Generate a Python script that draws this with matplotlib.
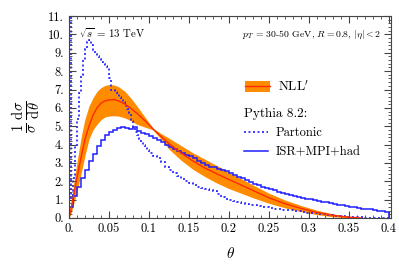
import numpy as np
from matplotlib import pyplot as plt
from matplotlib.lines import Line2D
from matplotlib.patches import Patch
from matplotlib.ticker import MultipleLocator

plt.rcParams['font.family'] = 'serif'
plt.rcParams['font.serif'] = ['cmr10', 'DejaVu Serif']
plt.rcParams['mathtext.fontset'] = 'cm'
plt.rcParams['axes.unicode_minus'] = False

# NLL' prediction: central value and band edges
nll_theta = [0, 0.003, 0.006, 0.009, 0.0125, 0.016, 0.02, 0.025, 0.03, 0.035, 0.04,
             0.045, 0.05, 0.056, 0.062, 0.07, 0.077, 0.085, 0.095, 0.105, 0.115,
             0.125, 0.14, 0.155, 0.17, 0.185, 0.2, 0.215, 0.23, 0.25, 0.27, 0.29,
             0.31, 0.33, 0.35, 0.365]
nll_mid = [0, 0.6, 1.3, 2.0, 2.75, 3.5, 4.3, 5.0, 5.6, 6.0, 6.25, 6.38, 6.43, 6.45,
           6.38, 6.2, 5.98, 5.7, 5.3, 4.85, 4.45, 4.05, 3.55, 3.1, 2.72, 2.4, 2.1,
           1.8, 1.5, 1.1, 0.78, 0.52, 0.3, 0.14, 0.04, 0.0]
nll_hi = [0, 0.9, 1.9, 2.8, 3.7, 4.6, 5.4, 6.1, 6.55, 6.9, 7.1, 7.22, 7.27, 7.25,
          7.15, 6.9, 6.55, 6.1, 5.5, 4.9, 4.6, 4.35, 3.95, 3.55, 3.2, 2.85, 2.5,
          2.15, 1.8, 1.35, 0.98, 0.68, 0.42, 0.22, 0.08, 0.02]
nll_lo = [0, 0.3, 0.8, 1.3, 1.9, 2.6, 3.4, 4.3, 4.8, 5.1, 5.35, 5.5, 5.55, 5.57,
          5.55, 5.45, 5.3, 5.1, 4.95, 4.8, 4.3, 3.75, 3.15, 2.65, 2.25, 1.9, 1.6,
          1.35, 1.1, 0.8, 0.55, 0.35, 0.18, 0.06, 0.0, 0.0]

# Pythia partonic histogram (fine bins below 0.1, coarser above)
partonic_edges = np.r_[np.arange(0, 0.1, 0.0025), np.arange(0.1, 0.4001, 0.005)]
partonic = [30.0, 1.0, 2.2, 3.9, 5.4, 6.8, 7.8, 8.6, 9.2, 9.6,
            9.7, 9.4, 9.15, 8.95, 8.8, 8.65, 8.5, 8.4, 8.3, 8.2,
            7.6, 7.0, 6.95, 6.85, 6.75, 6.6, 6.5, 6.3, 6.1, 5.95,
            5.7, 5.3, 4.95, 4.7, 4.5, 4.3, 4.15, 4.0, 3.85, 3.7,
            3.55, 3.4, 3.25, 3.05, 2.8, 2.6, 2.45, 2.3, 2.1, 2.0,
            1.9, 1.8, 1.7, 1.63, 1.58, 1.52, 1.45, 1.3, 1.15, 1.02,
            0.95, 0.9, 0.86, 0.8, 0.77, 0.72, 0.68, 0.64, 0.6, 0.57,
            0.54, 0.5, 0.47, 0.45, 0.43, 0.41, 0.38, 0.35, 0.32, 0.29,
            0.27, 0.24, 0.21, 0.19, 0.17, 0.15, 0.13, 0.11, 0.09, 0.07,
            0.05, 0.04, 0.03, 0.03, 0.02, 0.02, 0.02, 0.01, 0.01, 0.01]

# Pythia ISR+MPI+had histogram
had_edges = np.arange(0, 0.4001, 0.005)
had = [0.6, 1.2, 1.7, 2.2, 2.6, 3.1, 3.5, 3.9, 4.25, 4.5,
       4.7, 4.8, 4.9, 4.95, 4.9, 4.85, 4.95, 4.75, 4.65, 4.55,
       4.45, 4.35, 4.25, 4.15, 4.0, 3.85, 3.75, 3.65, 3.55, 3.45,
       3.35, 3.25, 3.1, 3.0, 2.9, 2.8, 2.75, 2.65, 2.6, 2.55,
       2.45, 2.35, 2.25, 2.15, 2.05, 1.95, 1.85, 1.8, 1.7, 1.65,
       1.58, 1.5, 1.42, 1.35, 1.3, 1.25, 1.2, 1.15, 1.1, 1.05,
       1.02, 0.97, 0.92, 0.88, 0.84, 0.8, 0.76, 0.72, 0.68, 0.64,
       0.6, 0.57, 0.54, 0.51, 0.48, 0.46, 0.43, 0.4, 0.37, 0.33]

xticks = [0, 0.05, 0.1, 0.15, 0.2, 0.25, 0.3, 0.35, 0.4]
xlabels = ['0.', '0.05', '0.1', '0.15', '0.2', '0.25', '0.3', '0.35', '0.4']
yticks = list(range(12))
ylabels = ['%d.' % v for v in yticks]

orange = '#ff8c00'
red = '#ff2a00'
blue = '#1f1fff'

fig = plt.figure(figsize=(3.99, 2.69), dpi=100)
ax = fig.add_axes([0.173, 0.19, 0.807, 0.75])

ax.fill_between(nll_theta, nll_lo, nll_hi, color=orange, lw=0)
ax.plot(nll_theta, nll_mid, color=red, lw=1.0)
ax.stairs(partonic, partonic_edges, color=blue, lw=1.2, linestyle=(0, (1.2, 1.5)))
ax.stairs(had, had_edges, color=blue, lw=1.1)

ax.set_xlim(0, 0.403)
ax.set_ylim(0, 11)
ax.set_xticks(xticks)
ax.set_xticklabels(xlabels)
ax.set_yticks(yticks)
ax.set_yticklabels(ylabels)
ax.xaxis.set_minor_locator(MultipleLocator(0.01))
ax.yaxis.set_minor_locator(MultipleLocator(0.2))
ax.tick_params(which='both', direction='in', top=True, right=True, labelsize=9,
               color='#444444')
ax.tick_params(which='major', length=5, width=0.8)
ax.tick_params(which='minor', length=2.5, width=0.6)
for s in ax.spines.values():
    s.set_color('#444444')

ax.set_xlabel(r'$\theta$', fontsize=11, labelpad=8)
ax.set_ylabel(r'$\frac{1}{\sigma}\,\frac{\mathrm{d}\sigma}{\mathrm{d}\theta}$',
              fontsize=15, labelpad=4)

ax.text(0.032, 0.89, r'$\sqrt{s}$ = 13 TeV', transform=ax.transAxes, fontsize=7.8,
        va='baseline', zorder=5)
ax.text(0.97, 0.905, r'$p_T$ = 30-50 GeV, $R = 0.8$, $|\eta| < 2$',
        transform=ax.transAxes, fontsize=7, ha='right', va='center')

h_nll = (Patch(color=orange, lw=0), Line2D([], [], color=red, lw=1.0))
leg1 = ax.legend([h_nll], [r'NLL$^\prime$'], loc='upper left',
                 bbox_to_anchor=(0.51, 0.745), frameon=False, fontsize=9.5,
                 handlelength=1.9, handleheight=1.0, handletextpad=0.6)
ax.add_artist(leg1)
h_part = Line2D([], [], color=blue, lw=1.2, linestyle=(0, (1.2, 1.5)))
h_had = Line2D([], [], color=blue, lw=1.1)
leg2 = ax.legend([h_part, h_had], ['Partonic', 'ISR+MPI+had'], loc='upper left',
                 bbox_to_anchor=(0.51, 0.6), frameon=False, fontsize=9,
                 title='Pythia 8.2:', title_fontsize=9.5, alignment='left',
                 handlelength=1.9, handletextpad=0.6, labelspacing=0.55)

fig.savefig('out.png', dpi=100)
